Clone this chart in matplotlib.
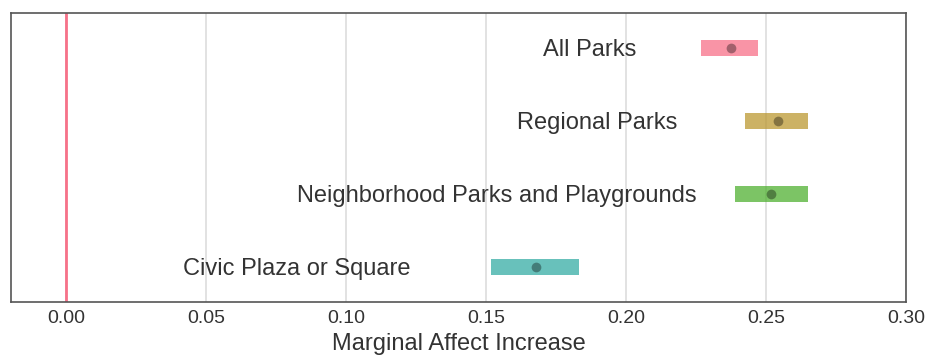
import matplotlib.pyplot as plt
import seaborn as sns

# park types, top to bottom
categories = ['All Parks', 'Regional Parks', 'Neighborhood Parks and Playgrounds', 'Civic Plaza or Square']
estimate = [0.2375, 0.2543, 0.2518, 0.1679]
ci_low = [0.2268, 0.2425, 0.2389, 0.1518]
ci_high = [0.2471, 0.2650, 0.2650, 0.1832]
xticks = [0.00, 0.05, 0.10, 0.15, 0.20, 0.25, 0.30]

sns.set_style('white')
plt.rcParams['font.family'] = ['Liberation Sans', 'DejaVu Sans']

colors = sns.color_palette('husl', 6)[:4]

fig, ax = plt.subplots(figsize=(9.29, 3.56), dpi=100)
fig.subplots_adjust(left=0.012, right=0.975, top=0.963, bottom=0.152)

# label right edges (data units)
label_x = [0.2039, 0.2184, 0.2254, 0.1231]

for i, name in enumerate(categories):
    y = len(categories) - 1 - i
    ax.barh(y, ci_high[i] - ci_low[i], left=ci_low[i], height=0.22,
            color=colors[i], alpha=0.75, edgecolor='none', zorder=2)
    ax.plot(estimate[i], y, 'o', color='black', alpha=0.35, markersize=7,
            markeredgewidth=0, zorder=3)
    ax.text(label_x[i], y - 0.025, name, ha='right', va='center', fontsize=17, color='#333333')

ax.axvline(0, color=colors[0], linewidth=2, zorder=1)

ax.set_xlim(-0.0196, 0.30)
ax.set_ylim(-0.48, 3.48)
ax.set_yticks([])
ax.set_xticks(xticks)
ax.set_xticklabels(['%.2f' % t for t in xticks], fontsize=14, color='#333333')
ax.tick_params(axis='x', length=0, pad=6)
ax.xaxis.grid(True, color='#dddddd', linewidth=1.2)
ax.set_axisbelow(True)
ax.set_xlabel('Marginal Affect Increase', fontsize=17, color='#333333', labelpad=4)
for s in ax.spines.values():
    s.set_color('#555555')
    s.set_linewidth(1.2)

plt.savefig('out.png')
